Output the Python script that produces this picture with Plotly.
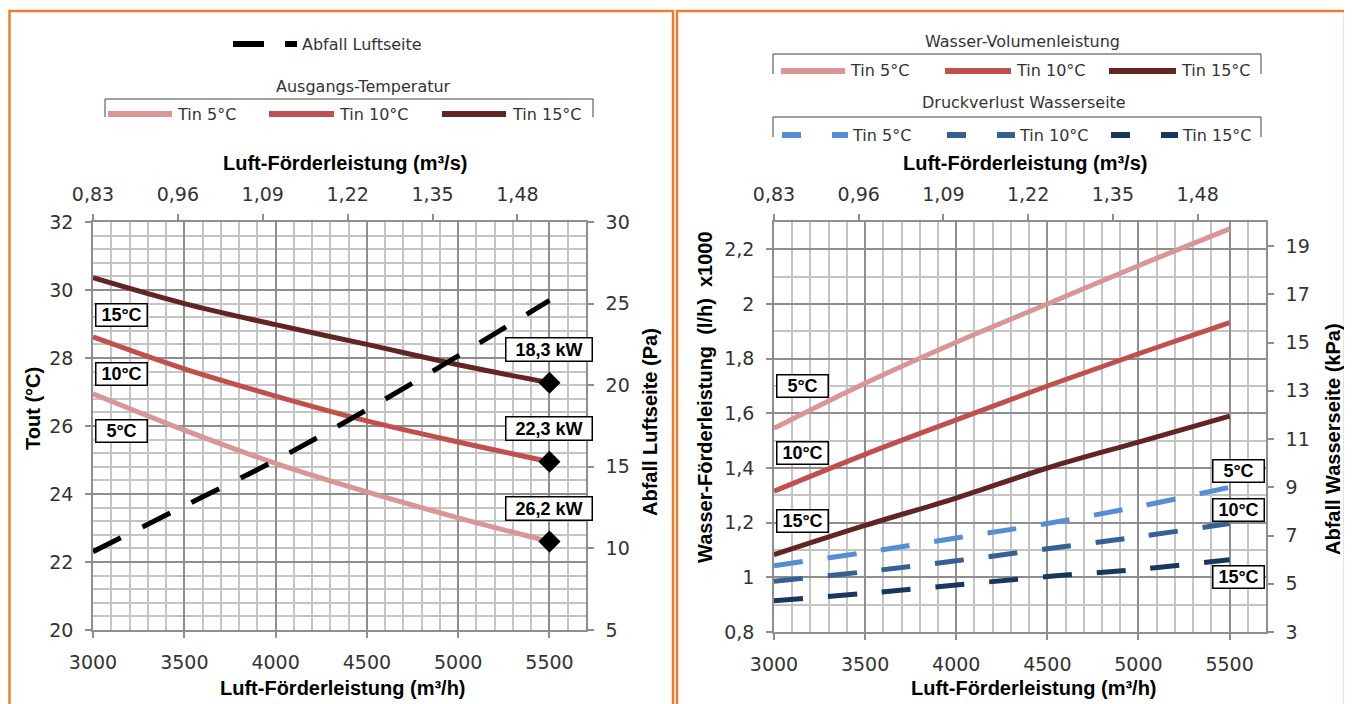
import plotly.graph_objects as go

W, H = 1352, 704
OFF = 8  # page body margin of the browser


def px(x):
    return (x - OFF) / W


def py(y):
    return 1 - (y - OFF) / H


# ---------------- data ----------------
airflow = [3000, 3500, 4000, 4500, 5000, 5500]          # m³/h
tout_5 = [26.95, 25.88, 24.90, 24.06, 23.30, 22.60]      # °C
tout_10 = [28.62, 27.68, 26.88, 26.15, 25.53, 24.95]
tout_15 = [30.36, 29.60, 28.98, 28.40, 27.80, 27.27]
air_dp = [9.8, 12.6, 15.4, 18.5, 21.8, 25.2]             # Pa
cap_labels = ["26,2 kW", "22,3 kW", "18,3 kW"]

water_5 = [1.545, 1.71, 1.86, 2.00, 2.14, 2.275]         # l/h x1000
water_10 = [1.315, 1.45, 1.576, 1.70, 1.818, 1.932]
water_15 = [1.083, 1.19, 1.29, 1.40, 1.495, 1.59]
wdp_5 = [5.75, 6.3, 6.9, 7.5, 8.2, 9.0]                  # kPa
wdp_10 = [5.1, 5.5, 5.95, 6.45, 6.95, 7.5]
wdp_15 = [4.3, 4.6, 4.95, 5.3, 5.6, 6.0]

temp_names = ["Tin 5°C", "Tin 10°C", "Tin 15°C"]
temp_tags = ["5°C", "10°C", "15°C"]

# ---------------- style ----------------
RED = ["#D99694", "#C0504D", "#632523"]
BLUE = ["#558ED5", "#376092", "#17375E"]
ORANGE = "#ED7D31"
GRID_MAJ = "#8E8E8E"
GRID_MIN = "#C4C4C4"
TXT = "#333333"
FONT = "DejaVu Sans"
BOLD = "Liberation Sans"
tickfont = dict(family=FONT, size=19, color=TXT)

fig = go.Figure()

# left panel
for vals, c, n in zip([tout_5, tout_10, tout_15], RED, temp_names):
    fig.add_trace(go.Scatter(x=airflow, y=vals, xaxis="x", yaxis="y", mode="lines",
                             name=n, line=dict(color=c, width=5, shape="spline")))
fig.add_trace(go.Scatter(x=airflow, y=air_dp, xaxis="x", yaxis="y2", mode="lines",
                         name="Abfall Luftseite",
                         line=dict(color="black", width=5, dash="31px,24px", shape="spline")))
end_t = [tout_5[-1], tout_10[-1], tout_15[-1]]
fig.add_trace(go.Scatter(x=[airflow[-1]] * 3, y=end_t, xaxis="x", yaxis="y", mode="markers",
                         marker=dict(symbol="diamond", size=17, color="black")))
# empty carriers so that the top (m³/s) axes get drawn
fig.add_trace(go.Scatter(x=[], y=[], xaxis="x2", yaxis="y", mode="lines", hoverinfo="skip"))

# right panel
for vals, c, n in zip([water_5, water_10, water_15], RED, temp_names):
    fig.add_trace(go.Scatter(x=airflow, y=vals, xaxis="x3", yaxis="y3", mode="lines",
                             name=n, line=dict(color=c, width=5, shape="spline")))
for vals, c, n in zip([wdp_5, wdp_10, wdp_15], BLUE, temp_names):
    fig.add_trace(go.Scatter(x=airflow, y=vals, xaxis="x3", yaxis="y4", mode="lines",
                             name=n, line=dict(color=c, width=5, dash="29px,25px", shape="spline")))
fig.add_trace(go.Scatter(x=[], y=[], xaxis="x4", yaxis="y3", mode="lines", hoverinfo="skip"))


def xbottom(domain, anchor):
    return dict(domain=domain, anchor=anchor, range=[3000, 5700], tickmode="linear",
                tick0=3000, dtick=500, showgrid=True, gridcolor=GRID_MAJ, gridwidth=2,
                minor=dict(dtick=100, tick0=3000, showgrid=True, gridcolor=GRID_MIN, gridwidth=2),
                showline=True, linecolor=GRID_MAJ, linewidth=1.5, ticks="outside", ticklen=6,
                tickcolor=GRID_MAJ, tickwidth=1.5, zeroline=False, tickfont=tickfont,
                ticklabelstandoff=8, automargin=False)


def xtop(over, anchor):
    return dict(overlaying=over, anchor=anchor, side="top", range=[0.83, 1.585],
                tickmode="linear", tick0=0.83, dtick=0.13, showgrid=False, showline=True,
                linecolor=GRID_MAJ, linewidth=1.5, ticks="outside", ticklen=6,
                tickcolor=GRID_MAJ, tickwidth=1.5, zeroline=False, tickfont=tickfont,
                ticklabelstandoff=6, automargin=False)


def yleft(domain, anchor, rng, t0, dt, mdt):
    return dict(domain=domain, anchor=anchor, range=rng, tickmode="linear", tick0=t0,
                dtick=dt, showgrid=True, gridcolor=GRID_MAJ, gridwidth=2,
                minor=dict(dtick=mdt, tick0=t0, showgrid=True, gridcolor=GRID_MIN, gridwidth=2),
                showline=True, linecolor=GRID_MAJ, linewidth=1.5, ticks="outside", ticklen=6,
                tickcolor=GRID_MAJ, tickwidth=1.5, zeroline=False, tickfont=tickfont,
                ticklabelstandoff=8, automargin=False)


def yright(over, anchor, rng, t0, dt):
    return dict(overlaying=over, anchor=anchor, side="right", range=rng, tickmode="linear",
                tick0=t0, dtick=dt, showgrid=False, showline=True, linecolor=GRID_MAJ,
                linewidth=1.5, ticks="outside", ticklen=6, tickcolor=GRID_MAJ, tickwidth=1.5,
                zeroline=False, tickfont=tickfont, ticklabelstandoff=8, automargin=False)


dom_xl = [px(93), px(586)]
dom_yl = [py(630), py(222)]
dom_xr = [px(774), px(1266)]
dom_yr = [py(632), py(222)]

fig.update_layout(
    width=W, height=H, margin=dict(l=0, r=0, t=0, b=0, pad=0, autoexpand=False),
    paper_bgcolor="white", plot_bgcolor="white", showlegend=False,
    separators=",.",
    xaxis=xbottom(dom_xl, "y"),
    xaxis2=xtop("x", "y"),
    yaxis=yleft(dom_yl, "x", [20, 32], 20, 2, 0.4),
    yaxis2=yright("y", "x", [5, 30], 5, 5),
    xaxis3=xbottom(dom_xr, "y3"),
    xaxis4=xtop("x3", "y3"),
    yaxis3=yleft(dom_yr, "x3", [0.8, 2.3], 0.8, 0.2, 0.1),
    yaxis4=yright("y3", "x3", [3, 20], 3, 2),
)

ann = []
shapes = []


def text(x, y, s, size=16, anchor="left", bold=False, angle=0):
    ann.append(dict(xref="paper", yref="paper", x=px(x), y=py(y), text=s, showarrow=False,
                    xanchor=anchor, yanchor="middle", textangle=angle,
                    font=dict(family=BOLD if bold else FONT, size=size,
                              color="black" if bold else TXT)))


# axis titles
text(343, 688, "<b>Luft-Förderleistung (m³/h)</b>", 20, "center", True)
text(345, 163, "<b>Luft-Förderleistung (m³/s)</b>", 20, "center", True)
text(33, 409, "<b>Tout (°C)</b>", 20, "center", True, -90)
text(650, 422, "<b>Abfall Luftseite (Pa)</b>", 20, "center", True, -90)
text(1034, 688, "<b>Luft-Förderleistung (m³/h)</b>", 20, "center", True)
text(1025, 163, "<b>Luft-Förderleistung (m³/s)</b>", 20, "center", True)
text(705, 397, "<b>Wasser-Förderleistung  (l/h)  x1000</b>", 20, "center", True, -90)
text(1333, 439, "<b>Abfall Wasserseite (kPa)</b>", 20, "center", True, -90)


def boxlabel(x, y, s, xref, yref, w, h, xanchor="center", yshift=0, xshift=0):
    ann.append(dict(xref=xref, yref=yref, x=x, y=y, text="<b>" + s + "</b>", showarrow=False,
                    xanchor=xanchor, yanchor="middle", yshift=yshift, xshift=xshift,
                    width=w, height=h, bgcolor="white", bordercolor="black", borderwidth=1.5,
                    borderpad=0, font=dict(family=BOLD, size=18, color="black")))


# left panel boxed labels
starts = [tout_5[0], tout_10[0], tout_15[0]]
for v, t in zip(starts, temp_tags):
    boxlabel(airflow[0], v, t, "x", "y", 50, 21, "left", yshift=-37, xshift=2)
for v, t in zip(end_t, cap_labels):
    boxlabel(airflow[-1], v, t, "x", "y", 85, 22, "center", yshift=33)

# right panel boxed labels
for v, t in zip([1.70, 1.456, 1.207], temp_tags):
    boxlabel(3000, v, t, "x3", "y3", 50, 21, "left", xshift=2)
for v, t in zip([1.39, 1.247, 1.0015], temp_tags):
    boxlabel(5700, v, t, "x3", "y3", 50, 21, "right", xshift=-1)


def seg(x0, x1, y, color, width=6, dash="solid"):
    shapes.append(dict(type="line", xref="paper", yref="paper", x0=px(x0), x1=px(x1),
                       y0=py(y), y1=py(y), line=dict(color=color, width=width, dash=dash)))


def bracket(x0, x1, ytop, ybot):
    shapes.append(dict(type="path", xref="paper", yref="paper",
                       path=f"M {px(x0)},{py(ybot)} L {px(x0)},{py(ytop)} L {px(x1)},{py(ytop)} L {px(x1)},{py(ybot)}",
                       line=dict(color="#404040", width=1)))


# left legends
seg(233, 264, 44, "black", 6)
seg(285, 297, 44, "black", 6)
text(300, 44, "Abfall Luftseite", 16)
text(363, 86, "Ausgangs-Temperatur", 16, "center")
bracket(105, 593, 99, 117)
for (a, b, tx), c, n in zip([(108, 172, 175), (269, 334, 337), (442, 506, 510)], RED, temp_names):
    seg(a, b, 114, c, 6)
    text(tx, 114, n, 16)

# right legends
text(1022, 41, "Wasser-Volumenleistung", 16, "center")
bracket(773, 1261, 54, 74)
for (a, b, tx), c, n in zip([(781, 845, 848), (945, 1011, 1014), (1109, 1176, 1179)], RED, temp_names):
    seg(a, b, 71, c, 6)
    text(tx, 71, n, 16)
text(1024, 102, "Druckverlust Wasserseite", 16, "center")
bracket(773, 1261, 117, 137)
for (a, b, tx), c, n in zip([(782, 832, 850), (947, 997, 1017), (1111, 1161, 1180)], BLUE, temp_names):
    seg(a, a + 19, 135, c, 6)
    seg(b, tx - 2, 135, c, 6)
    text(tx, 135, n, 16)

# orange panel frames
shapes.append(dict(type="rect", xref="paper", yref="paper", x0=px(9.5), x1=px(673),
                   y0=py(716), y1=py(11), line=dict(color=ORANGE, width=2.5)))
shapes.append(dict(type="rect", xref="paper", yref="paper", x0=px(677), x1=px(1345),
                   y0=py(716), y1=py(11), line=dict(color=ORANGE, width=2.5)))

fig.update_layout(annotations=ann, shapes=shapes)
fig.write_html("out.html")
